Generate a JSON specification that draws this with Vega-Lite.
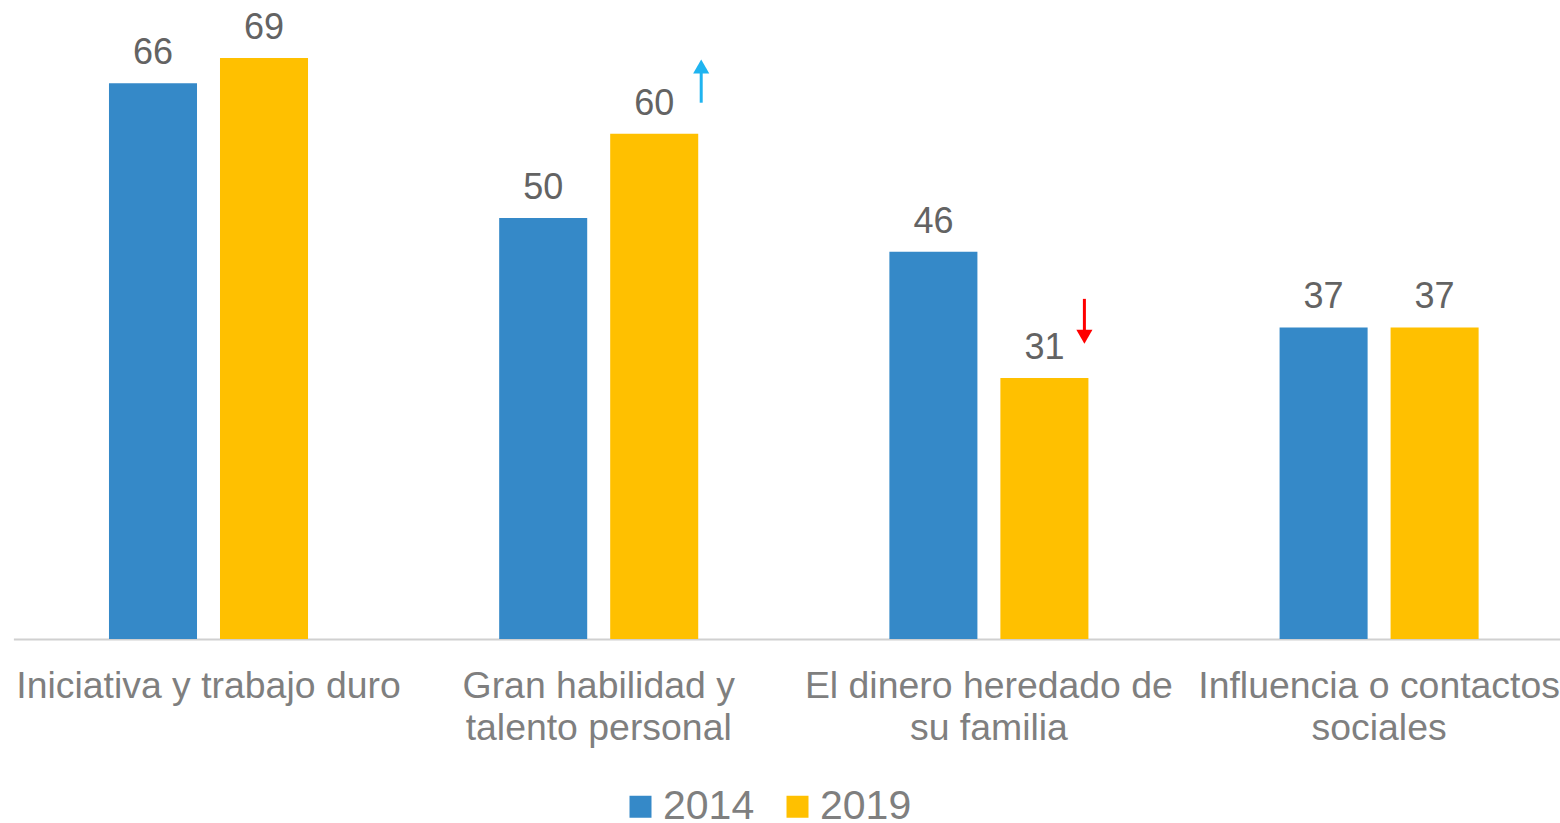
{
  "$schema": "https://vega.github.io/schema/vega-lite/v6.json",
  "width": 1546,
  "height": 639,
  "autosize": "none",
  "padding": {"left": 14, "top": 0, "right": 0, "bottom": 184},
  "background": "white",
  "config": {
    "view": {"stroke": null},
    "font": "Liberation Sans",
    "legend": {"padding": 0}
  },
  "datasets": {
    "bars": [
      {"factor": "Iniciativa y trabajo duro", "year": "2014", "value": 66},
      {"factor": "Iniciativa y trabajo duro", "year": "2019", "value": 69},
      {"factor": "Gran habilidad y|talento personal", "year": "2014", "value": 50},
      {"factor": "Gran habilidad y|talento personal", "year": "2019", "value": 60},
      {"factor": "El dinero heredado de|su familia", "year": "2014", "value": 46},
      {"factor": "El dinero heredado de|su familia", "year": "2019", "value": 31},
      {"factor": "Influencia o contactos|sociales", "year": "2014", "value": 37},
      {"factor": "Influencia o contactos|sociales", "year": "2019", "value": 37}
    ],
    "arrows": [
      {"factor": "Gran habilidad y|talento personal", "direction": "up", "tail": 63.7, "head": 68.0},
      {"factor": "El dinero heredado de|su familia", "direction": "down", "tail": 40.4, "head": 35.9}
    ]
  },
  "encoding": {
    "x": {
      "field": "factor",
      "type": "nominal",
      "sort": null,
      "scale": {"paddingInner": 0, "paddingOuter": 0, "range": [-0.6, 1560.2]},
      "axis": {
        "title": null,
        "labelAngle": 0,
        "ticks": false,
        "labelFontSize": 37.4,
        "labelColor": "#7f7f7f",
        "labelPadding": 28,
        "labelLineHeight": 42,
        "labelExpr": "split(datum.label, '|')",
        "domainColor": "#d0d0d0",
        "domainWidth": 2,
        "labelLimit": 0
      }
    }
  },
  "layer": [
    {
      "data": {"name": "bars"},
      "mark": {"type": "bar"},
      "encoding": {
        "xOffset": {
          "field": "year",
          "type": "nominal",
          "scale": {"domain": ["2014", "2019"], "paddingInner": 0.207, "paddingOuter": 0.861}
        },
        "y": {
          "field": "value",
          "type": "quantitative",
          "scale": {"domain": [0, 75.9], "nice": false},
          "axis": null
        },
        "color": {
          "field": "year",
          "type": "nominal",
          "scale": {"domain": ["2014", "2019"], "range": ["#3589C8", "#FFC000"]},
          "legend": {
            "title": null,
            "orient": "none",
            "direction": "horizontal",
            "legendX": 606,
            "legendY": 786,
            "symbolType": "square",
            "symbolSize": 484,
            "symbolStrokeWidth": 0,
            "labelFontSize": 41,
            "labelColor": "#7f7f7f",
            "labelOffset": 2,
            "columnPadding": 22
          }
        }
      }
    },
    {
      "data": {"name": "bars"},
      "mark": {"type": "text", "fontSize": 36, "color": "#636363", "baseline": "alphabetic", "dy": -19},
      "encoding": {
        "xOffset": {"field": "year", "type": "nominal"},
        "y": {"field": "value", "type": "quantitative"},
        "text": {"field": "value", "type": "quantitative"}
      }
    },
    {
      "data": {"name": "arrows"},
      "transform": [{"filter": "datum.direction == 'up'"}],
      "mark": {"type": "rule", "color": "#1FB4F0", "strokeWidth": 3, "xOffset": 102.5},
      "encoding": {
        "y": {"field": "tail", "type": "quantitative"},
        "y2": {"field": "head"}
      }
    },
    {
      "data": {"name": "arrows"},
      "transform": [{"filter": "datum.direction == 'up'"}],
      "mark": {"type": "point", "shape": "triangle-up", "filled": true, "color": "#1FB4F0", "opacity": 1, "size": 260, "xOffset": 102.5},
      "encoding": {
        "y": {"field": "head", "type": "quantitative"}
      }
    },
    {
      "data": {"name": "arrows"},
      "transform": [{"filter": "datum.direction == 'down'"}],
      "mark": {"type": "rule", "color": "#FF0000", "strokeWidth": 3, "xOffset": 95.5},
      "encoding": {
        "y": {"field": "tail", "type": "quantitative"},
        "y2": {"field": "head"}
      }
    },
    {
      "data": {"name": "arrows"},
      "transform": [{"filter": "datum.direction == 'down'"}],
      "mark": {"type": "point", "shape": "triangle-down", "filled": true, "color": "#FF0000", "opacity": 1, "size": 260, "xOffset": 95.5},
      "encoding": {
        "y": {"field": "head", "type": "quantitative"}
      }
    }
  ]
}
